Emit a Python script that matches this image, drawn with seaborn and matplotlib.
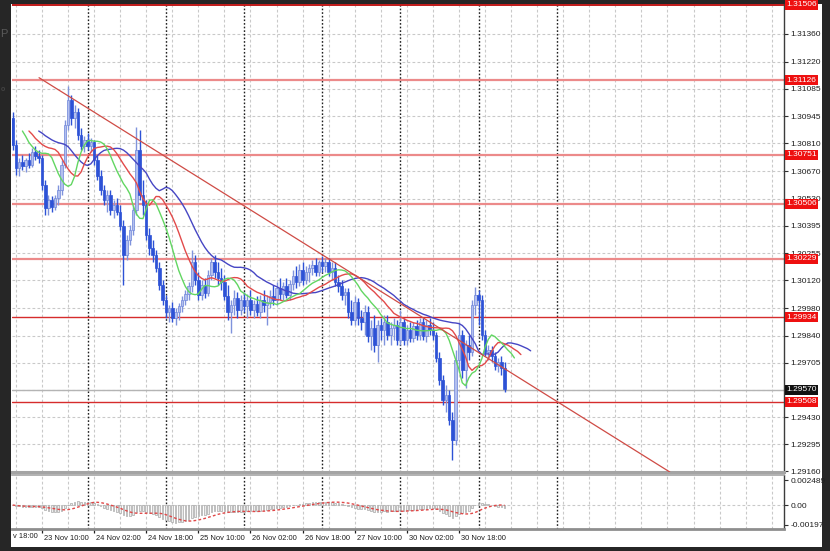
import numpy as np
import pandas as pd
import matplotlib
matplotlib.use("Agg")
import matplotlib.pyplot as plt
import matplotlib.transforms as mtransforms
from matplotlib.patches import Rectangle
import seaborn as sns

# H1 candles (bar 0 = first visible bar)
opens = [1.30937, 1.30801, 1.30685, 1.30716, 1.30695, 1.30726, 1.30700, 1.30766, 1.30746, 1.30736,
         1.30600, 1.30484, 1.30524, 1.30489, 1.30534, 1.30575, 1.30700, 1.30902, 1.31028, 1.30937,
         1.30967, 1.30851, 1.30796, 1.30826, 1.30796, 1.30816, 1.30726, 1.30645, 1.30575, 1.30524,
         1.30549, 1.30474, 1.30499, 1.30464, 1.30393, 1.30247, 1.30323, 1.30373, 1.30474, 1.30776,
         1.30549, 1.30499, 1.30348, 1.30283, 1.30247, 1.30182, 1.30096, 1.30021, 1.29960, 1.29981,
         1.29930, 1.29960, 1.29991, 1.30021, 1.30051, 1.30091, 1.30212, 1.30122, 1.30046, 1.30096,
         1.30056, 1.30147, 1.30212, 1.30162, 1.30132, 1.30111, 1.30041, 1.29960, 1.29996, 1.30031,
         1.29971, 1.30021, 1.29991, 1.30021, 1.29971, 1.30001, 1.29960, 1.30021, 1.29996, 1.30011,
         1.30041, 1.30021, 1.30081, 1.30051, 1.30091, 1.30046, 1.30101, 1.30142, 1.30111, 1.30172,
         1.30122, 1.30162, 1.30182, 1.30197, 1.30162, 1.30212, 1.30192, 1.30212, 1.30162, 1.30182,
         1.30111, 1.30091, 1.30046, 1.30061, 1.29960, 1.29920, 1.30011, 1.29930, 1.29910, 1.29960,
         1.29840, 1.29880, 1.29794, 1.29895, 1.29870, 1.29910, 1.29845, 1.29880, 1.29895, 1.29819,
         1.29910, 1.29819, 1.29870, 1.29830, 1.29890, 1.29845, 1.29910, 1.29840, 1.29895, 1.29870,
         1.29845, 1.29729, 1.29618, 1.29517, 1.29543, 1.29417, 1.29316, 1.29719, 1.29845, 1.29668,
         1.29794, 1.29759, 1.29996, 1.30046, 1.30021, 1.29845, 1.29759, 1.29769, 1.29739, 1.29689,
         1.29709, 1.29679]
highs = [1.30967, 1.30826, 1.30736, 1.30751, 1.30736, 1.30761, 1.30786, 1.30796, 1.30776, 1.30751,
         1.30625, 1.30549, 1.30544, 1.30549, 1.30600, 1.30726, 1.30927, 1.31098, 1.31053, 1.31002,
         1.30987, 1.30887, 1.30846, 1.30862, 1.30836, 1.30826, 1.30751, 1.30675, 1.30600, 1.30575,
         1.30575, 1.30524, 1.30534, 1.30499, 1.30424, 1.30348, 1.30398, 1.30499, 1.30892, 1.30877,
         1.30625, 1.30524, 1.30383, 1.30323, 1.30273, 1.30212, 1.30122, 1.30046, 1.29996, 1.30011,
         1.29981, 1.30006, 1.30041, 1.30071, 1.30111, 1.30273, 1.30247, 1.30162, 1.30122, 1.30132,
         1.30172, 1.30232, 1.30247, 1.30212, 1.30182, 1.30147, 1.30096, 1.30021, 1.30071, 1.30061,
         1.30046, 1.30061, 1.30051, 1.30071, 1.30021, 1.30041, 1.30046, 1.30071, 1.30046, 1.30071,
         1.30096, 1.30111, 1.30132, 1.30111, 1.30132, 1.30122, 1.30172, 1.30192, 1.30202, 1.30212,
         1.30192, 1.30202, 1.30222, 1.30232, 1.30222, 1.30242, 1.30232, 1.30232, 1.30212, 1.30212,
         1.30147, 1.30122, 1.30081, 1.30081, 1.30021, 1.30041, 1.30031, 1.29971, 1.29996, 1.29991,
         1.29920, 1.29945, 1.29920, 1.29930, 1.29945, 1.29945, 1.29910, 1.29930, 1.29920, 1.29971,
         1.29930, 1.29895, 1.29910, 1.29910, 1.29920, 1.29930, 1.29930, 1.29920, 1.29930, 1.29910,
         1.29860, 1.29759, 1.29643, 1.29593, 1.29568, 1.29457, 1.29769, 1.29910, 1.29870, 1.29819,
         1.29845, 1.30021, 1.30086, 1.30071, 1.30046, 1.29870, 1.29794, 1.29789, 1.29759, 1.29729,
         1.29739, 1.29709]
lows = [1.30776, 1.30650, 1.30645, 1.30675, 1.30665, 1.30685, 1.30690, 1.30726, 1.30710, 1.30575,
        1.30449, 1.30449, 1.30464, 1.30474, 1.30499, 1.30549, 1.30685, 1.30877, 1.30902, 1.30887,
        1.30826, 1.30776, 1.30766, 1.30776, 1.30766, 1.30700, 1.30625, 1.30549, 1.30499, 1.30464,
        1.30449, 1.30434, 1.30449, 1.30373, 1.30096, 1.30222, 1.30298, 1.30348, 1.30449, 1.30524,
        1.30449, 1.30323, 1.30247, 1.30212, 1.30162, 1.30071, 1.29996, 1.29930, 1.29910, 1.29910,
        1.29895, 1.29920, 1.29960, 1.29996, 1.30021, 1.30061, 1.30096, 1.30021, 1.30021, 1.30031,
        1.30041, 1.30122, 1.30132, 1.30096, 1.30071, 1.30021, 1.29920, 1.29855, 1.29945, 1.29930,
        1.29945, 1.29960, 1.29930, 1.29945, 1.29930, 1.29940, 1.29930, 1.29960, 1.29895, 1.29981,
        1.29996, 1.29996, 1.30021, 1.30021, 1.30031, 1.30021, 1.30071, 1.30081, 1.30091, 1.30096,
        1.30101, 1.30111, 1.30147, 1.30142, 1.30142, 1.30162, 1.30162, 1.30142, 1.30122, 1.30091,
        1.30061, 1.30021, 1.29996, 1.29930, 1.29895, 1.29895, 1.29895, 1.29870, 1.29845, 1.29809,
        1.29769, 1.29759, 1.29709, 1.29819, 1.29794, 1.29819, 1.29794, 1.29819, 1.29794, 1.29794,
        1.29794, 1.29794, 1.29809, 1.29809, 1.29819, 1.29819, 1.29819, 1.29809, 1.29845, 1.29819,
        1.29709, 1.29593, 1.29492, 1.29457, 1.29392, 1.29215, 1.29291, 1.29658, 1.29628, 1.29578,
        1.29719, 1.29739, 1.29945, 1.29895, 1.29819, 1.29739, 1.29719, 1.29709, 1.29668, 1.29658,
        1.29643, 1.29558]
closes = [1.30801, 1.30685, 1.30716, 1.30695, 1.30726, 1.30700, 1.30766, 1.30746, 1.30736, 1.30600,
          1.30484, 1.30524, 1.30489, 1.30534, 1.30575, 1.30700, 1.30902, 1.31028, 1.30937, 1.30967,
          1.30851, 1.30796, 1.30826, 1.30796, 1.30816, 1.30726, 1.30645, 1.30575, 1.30524, 1.30549,
          1.30474, 1.30499, 1.30464, 1.30393, 1.30247, 1.30323, 1.30373, 1.30474, 1.30776, 1.30549,
          1.30499, 1.30348, 1.30283, 1.30247, 1.30182, 1.30096, 1.30021, 1.29960, 1.29981, 1.29930,
          1.29960, 1.29991, 1.30021, 1.30051, 1.30091, 1.30212, 1.30122, 1.30046, 1.30096, 1.30056,
          1.30147, 1.30212, 1.30162, 1.30132, 1.30111, 1.30041, 1.29960, 1.29996, 1.30031, 1.29971,
          1.30021, 1.29991, 1.30021, 1.29971, 1.30001, 1.29960, 1.30021, 1.29996, 1.30011, 1.30041,
          1.30021, 1.30081, 1.30051, 1.30091, 1.30046, 1.30101, 1.30142, 1.30111, 1.30172, 1.30122,
          1.30162, 1.30182, 1.30197, 1.30162, 1.30212, 1.30192, 1.30212, 1.30162, 1.30182, 1.30111,
          1.30091, 1.30046, 1.30061, 1.29960, 1.29920, 1.30011, 1.29930, 1.29910, 1.29960, 1.29840,
          1.29880, 1.29794, 1.29895, 1.29870, 1.29910, 1.29845, 1.29880, 1.29895, 1.29819, 1.29910,
          1.29819, 1.29870, 1.29830, 1.29890, 1.29845, 1.29910, 1.29840, 1.29895, 1.29870, 1.29845,
          1.29729, 1.29618, 1.29517, 1.29543, 1.29417, 1.29316, 1.29719, 1.29845, 1.29668, 1.29794,
          1.29759, 1.29996, 1.30046, 1.30021, 1.29845, 1.29759, 1.29769, 1.29739, 1.29689, 1.29709,
          1.29679, 1.29573]

# horizontal levels, trend line and labels
levels_light = [1.31126, 1.30751, 1.30506, 1.30229]
levels_dark = [1.29934, 1.29508]
top_level = 1.31506
last_price = 1.29570
trend_bars = [8.1, 201.7]
trend_prices = [1.31140, 1.29155]

price_ticks = [1.31500, 1.31360, 1.31220, 1.31085, 1.30945, 1.30810, 1.30670, 1.30530, 1.30395,
               1.30255, 1.30120, 1.29980, 1.29840, 1.29705, 1.29570, 1.29430, 1.29295, 1.29160]
hidden_ticks = [1.31500, 1.29570]  # fully covered by the price tags
macd_ticks = [0.002489, 0.0, -0.00197]
macd_labels = ["0.002489", "0.00", "-0.00197"]
time_bars = [9, 25, 41, 57, 73, 89, 105, 121, 137]
time_labels = ["23 Nov 10:00", "24 Nov 02:00", "24 Nov 18:00", "25 Nov 10:00", "26 Nov 02:00",
               "26 Nov 18:00", "27 Nov 10:00", "30 Nov 02:00", "30 Nov 18:00"]

sns.set_theme(style="white")
plt.rcParams["font.family"] = ["Liberation Sans", "DejaVu Sans"]

df = pd.DataFrame({"open": opens, "high": highs, "low": lows, "close": closes})
df["bar"] = np.arange(len(df))
up = df["close"] >= df["open"]

# Alligator (SMMA of median price, shifted forward)
median = (df["high"] + df["low"]) / 2
gator = []
for name, period, shift in [("jaw", 13, 8), ("teeth", 8, 5), ("lips", 5, 3)]:
    s = median.ewm(alpha=1 / period, adjust=False).mean()
    gator.append(pd.DataFrame({"bar": df["bar"] + shift, "value": s, "line": name}))
gator = pd.concat(gator, ignore_index=True)

# MACD 12/26/9
macd = df["close"].ewm(span=12, adjust=False).mean() - df["close"].ewm(span=26, adjust=False).mean()
signal = macd.rolling(9, min_periods=1).mean()

W, H = 830, 551


def px_box(x0, y0, x1, y1):
    return [x0 / W, 1 - y1 / H, (x1 - x0) / W, (y1 - y0) / H]


fig = plt.figure(figsize=(8.3, 5.51), dpi=100, facecolor="#262626")
fig.add_artist(Rectangle((11 / W, 1 - 547 / H), 811 / W, 543 / H, transform=fig.transFigure,
                         facecolor="white", edgecolor="none", zorder=-5))
ax = fig.add_axes(px_box(12, 4, 784, 472))
ax2 = fig.add_axes(px_box(12, 475, 784, 529))

xlim = (-0.2, 236.76)
for a in (ax, ax2):
    a.set_facecolor("white")
    a.set_xlim(*xlim)
    for b in range(1, 237, 8):
        a.axvline(b, color="#c9c9c9", lw=0.8, ls=(0, (2.5, 2)), zorder=0)
    for b in range(23, 168, 24):
        a.axvline(b, color="#1e1e1e", lw=1.0, ls=(0, (1.2, 1.4)), zorder=0.5)
    a.spines["left"].set_visible(False)
    a.spines["right"].set_color("#3c3c3c")
    a.spines["right"].set_linewidth(1.0)

ax.set_ylim(1.29155, 1.31511)
for p in price_ticks[1:-1]:
    ax.axhline(p, color="#c9c9c9", lw=0.8, ls=(0, (2.5, 2)), zorder=0)

# levels
for p in levels_light:
    ax.axhline(p, color="#ec8a8a", lw=1.6, zorder=1)
for p in levels_dark:
    ax.axhline(p, color="#d62c2c", lw=1.0, zorder=1)
ax.axhline(top_level, color="#c01818", lw=1.4, zorder=1)
ax.axhline(last_price, color="#b4b4b4", lw=1.0, zorder=1)

# candles
bull_body, bull_edge = "#b3bfee", "#6f86da"
bear_body = "#2d52d6"
wick_colors = np.where(up, "#7f93dc", "#2d52d6")
ax.vlines(df["bar"], df["low"], df["high"], colors=wick_colors, lw=1.0, zorder=3)
ax.bar(df.loc[up, "bar"], (df["close"] - df["open"])[up], bottom=df.loc[up, "open"], width=0.78,
       color=bull_body, edgecolor=bull_edge, linewidth=0.5, zorder=4)
ax.bar(df.loc[~up, "bar"], (df["close"] - df["open"])[~up], bottom=df.loc[~up, "open"], width=0.78,
       color=bear_body, edgecolor=bear_body, linewidth=0.5, zorder=4)

sns.lineplot(data=gator, x="bar", y="value", hue="line", ax=ax, legend=False, lw=1.0, zorder=5,
             palette={"jaw": "#4646c4", "teeth": "#e24a4a", "lips": "#62d662"})
ax.plot(trend_bars, trend_prices, color="#cf4b45", lw=0.9, zorder=6)

ax.yaxis.tick_right()
ax.set_yticks(price_ticks)
ax.set_yticklabels(["" if p in hidden_ticks else f"{p:.5f}" for p in price_ticks])
ax.tick_params(axis="y", right=True, length=3, width=0.8, color="#303030", pad=1.5,
               labelsize=6.0, labelcolor="#1e1e1e")
ax.tick_params(axis="x", bottom=False, labelbottom=False)
ax.spines["top"].set_visible(False)
ax.spines["bottom"].set_color("#a4a4a4")
ax.spines["bottom"].set_linewidth(2.2)
ax.set_xlabel("")
ax.set_ylabel("")

# price tags on the right axis
tag_tr = mtransforms.blended_transform_factory(ax.transAxes, ax.transData)
for p in levels_light + levels_dark + [top_level]:
    ax.text(1.003, p, f"{p:.5f}", transform=tag_tr, ha="left", va="center", fontsize=6.0,
            color="white", clip_on=False, zorder=10,
            bbox=dict(boxstyle="square,pad=0.18", facecolor="#ee1010", edgecolor="none"))
ax.text(1.003, last_price, f"{last_price:.5f}", transform=tag_tr, ha="left", va="center",
        fontsize=6.0, color="white", clip_on=False, zorder=10,
        bbox=dict(boxstyle="square,pad=0.18", facecolor="#111111", edgecolor="none"))

# MACD window
ax2.set_ylim(-0.0024, 0.0030)
ax2.axhline(0, color="#c9c9c9", lw=0.8, ls=(0, (2.5, 2)), zorder=0)
ax2.bar(df["bar"], macd, width=0.5, color="#ececec", edgecolor="#a8a8a8", linewidth=0.5, zorder=2)
sns.lineplot(x=df["bar"], y=signal, ax=ax2, color="#e04848", lw=1.0, linestyle=(0, (2, 1.6)), zorder=3)
ax2.yaxis.tick_right()
ax2.set_yticks(macd_ticks)
ax2.set_yticklabels(macd_labels)
ax2.tick_params(axis="y", right=True, length=3, width=0.8, color="#303030", pad=1.5,
                labelsize=6.0, labelcolor="#1e1e1e")
ax2.set_xticks(time_bars)
ax2.set_xticklabels(time_labels)
ax2.tick_params(axis="x", bottom=True, length=3, width=0.9, color="#202020", pad=1.5,
                labelsize=5.4, labelcolor="#1e1e1e")
shift = mtransforms.ScaledTranslation(2 / 100, 0, fig.dpi_scale_trans)
for lbl in ax2.get_xticklabels():
    lbl.set_ha("left")
    lbl.set_transform(lbl.get_transform() + shift)
ax2.spines["top"].set_color("#a4a4a4")
ax2.spines["top"].set_linewidth(1.2)
ax2.spines["bottom"].set_color("#8e8e8e")
ax2.spines["bottom"].set_linewidth(2.0)
ax2.set_xlabel("")
ax2.set_ylabel("")

fig.text(12.5 / W, 1 - 537 / H, "v 18:00", fontsize=5.4, color="#1e1e1e", va="center", ha="left")
# fragments of the terminal window behind the chart
fig.text(0.5 / W, 1 - 34 / H, "P", fontsize=8, color="#5a5a5a", va="center", ha="left")
fig.text(0.5 / W, 1 - 89 / H, "o", fontsize=5, color="#444444", weight="bold", va="center", ha="left")

fig.savefig("out.png", dpi=100, facecolor=fig.get_facecolor())
